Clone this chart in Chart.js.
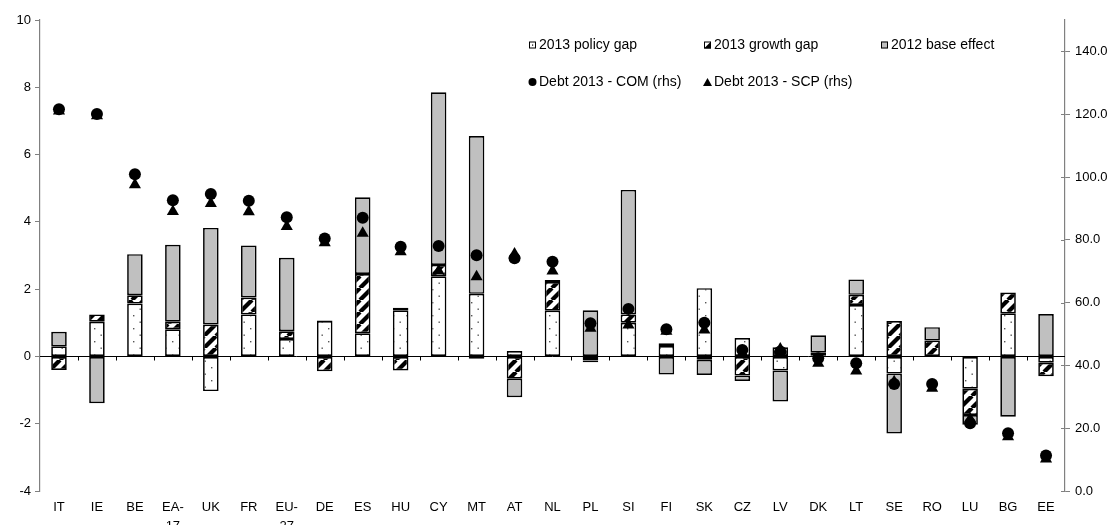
<!DOCTYPE html>
<html>
<head>
<meta charset="utf-8">
<script src="https://cdn.jsdelivr.net/npm/chart.js@4/dist/chart.umd.min.js"></script>
<style>
  html, body { margin: 0; padding: 0; background: #fff; }
  #wrap { width: 1113px; height: 525px; position: relative; }
</style>
</head>
<body>
<div id="wrap"><canvas id="c" width="1113" height="525"></canvas></div>
<script>
// ---- data ----
const categories = ['IT','IE','BE',['EA-','17'],'UK','FR',['EU-','27'],'DE','ES','HU','CY','MT','AT','NL','PL','SI','FI','SK','CZ','LV','DK','LT','SE','RO','LU','BG','EE'];
const policyGap  = [0.30, 1.03, 1.57, 0.81, -1.03, 1.25, 0.52, 1.05, 0.69, 1.37, 2.38, 1.86, 0.16, 1.36, -0.12, 1.00, 0.31, 2.03, 0.55, -0.42, 0.02, 1.53, -0.51, 0.00, -0.96, 1.28, -0.19];
const growthGap  = [-0.40, 0.22, 0.25, 0.22, 0.95, 0.50, 0.23, -0.44, 1.76, -0.42, 0.34, -0.07, -0.66, 0.85, -0.05, 0.25, 0.08, -0.10, -0.57, 0.27, 0.09, 0.30, 1.05, 0.47, -0.78, 0.62, -0.40];
const baseEffect = [0.43, -1.39, 1.22, 2.29, 2.87, 1.55, 2.18, 0.02, 2.28, 0.08, 5.13, 4.69, -0.55, 0.06, 1.37, 3.70, -0.54, -0.45, -0.16, -0.92, 0.52, 0.46, -1.78, 0.40, -0.29, -1.79, 1.26];
const debtCOM    = [121.6, 120.1, 100.9, 92.6, 94.6, 92.4, 87.2, 80.4, 87.0, 77.8, 78.0, 75.1, 74.1, 73.0, 53.4, 58.0, 51.5, 53.6, 44.9, 44.4, 42.3, 40.7, 34.1, 34.1, 21.6, 18.4, 11.3];
const debtSCP    = [121.0, 119.5, 97.5, 89.0, 91.6, 88.9, 84.2, 79.1, 82.1, 76.2, 70.1, 68.2, 75.5, 70.1, 51.8, 52.9, 50.9, 51.3, 43.9, 45.2, 40.7, 38.2, 34.8, 32.7, 22.9, 17.3, 10.2];
const seriesNames = ['2013 policy gap', '2013 growth gap', '2012 base effect', 'Debt 2013 - COM (rhs)', 'Debt 2013 - SCP (rhs)'];
const leftTicks = { min: -4, max: 10, step: 2 };
const rightTicks = { min: 0, max: 150, step: 20 };

const FONT = '"Liberation Sans", Arial, sans-serif';

// ---- patterns ----
function makeTile(size, draw) {
  const t = document.createElement('canvas');
  t.width = size; t.height = size;
  draw(t.getContext('2d'), size);
  return document.getElementById('c').getContext('2d').createPattern(t, 'repeat');
}
const dotPattern = makeTile(13, (g, s) => {
  g.fillStyle = '#fff'; g.fillRect(0, 0, s, s);
  g.fillStyle = '#555';
  g.fillRect(3, 3, 1.4, 1.4);
  g.fillRect(9.5, 9.5, 1.4, 1.4);
});
const hatchPattern = makeTile(12, (g, s) => {
  g.fillStyle = '#fff'; g.fillRect(0, 0, s, s);
  g.strokeStyle = '#000'; g.lineWidth = 4.2;
  for (const k of [-s, 0, s]) {
    g.beginPath(); g.moveTo(k, s); g.lineTo(k + s, 0); g.stroke();
  }
});
const GRAY = '#c0c0c0';

// ---- plugin: zero line, cross ticks, legend ----
const extras = {
  id: 'extras',
  afterDatasetsDraw(chart) {
    const { ctx, chartArea: a, scales } = chart;
    const y0 = Math.round(scales.y.getPixelForValue(0)) + 0.5;
    ctx.save();
    ctx.strokeStyle = '#000'; ctx.lineWidth = 1;
    ctx.beginPath(); ctx.moveTo(a.left, y0); ctx.lineTo(a.right, y0); ctx.stroke();
    const n = categories.length, w = (a.right - a.left) / n;
    ctx.beginPath();
    for (let i = 1; i < n; i++) {
      const x = Math.round(a.left + i * w) + 0.5;
      ctx.moveTo(x, y0); ctx.lineTo(x, y0 + 4);
    }
    ctx.stroke();
    // inner half of right-axis cross ticks
    ctx.strokeStyle = '#808080';
    ctx.beginPath();
    for (let v = rightTicks.min; v <= 140; v += rightTicks.step) {
      const y = Math.round(scales.y2.getPixelForValue(v)) + 0.5;
      ctx.moveTo(a.right - 4, y); ctx.lineTo(a.right, y);
    }
    ctx.stroke();
    ctx.restore();
  },
  afterDraw(chart) {
    const ctx = chart.ctx;
    ctx.save();
    ctx.font = '14px ' + FONT;
    ctx.fillStyle = '#000';
    ctx.textBaseline = 'middle';
    const items = [
      { x: 529, y: 45, kind: 'dot', label: seriesNames[0] },
      { x: 704, y: 45, kind: 'hatch', label: seriesNames[1] },
      { x: 881, y: 45, kind: 'gray', label: seriesNames[2] },
      { x: 529, y: 82, kind: 'circle', label: seriesNames[3] },
      { x: 704, y: 82, kind: 'tri', label: seriesNames[4] },
    ];
    for (const it of items) {
      const s = 7, x = it.x, y = it.y - 3.5;
      ctx.lineWidth = 1; ctx.strokeStyle = '#000';
      if (it.kind === 'dot') {
        ctx.fillStyle = '#fff'; ctx.fillRect(x, y, s, s);
        ctx.fillStyle = '#000'; ctx.fillRect(x + 3, y + 3, 1.2, 1.2);
        ctx.strokeRect(x + 0.5, y + 0.5, s - 1, s - 1);
      } else if (it.kind === 'hatch') {
        ctx.fillStyle = '#fff'; ctx.fillRect(x, y, s, s);
        ctx.fillStyle = '#000';
        ctx.beginPath(); ctx.moveTo(x + s, y); ctx.lineTo(x + s, y + s); ctx.lineTo(x, y + s); ctx.closePath(); ctx.fill();
        ctx.strokeRect(x + 0.5, y + 0.5, s - 1, s - 1);
      } else if (it.kind === 'gray') {
        ctx.fillStyle = GRAY; ctx.fillRect(x, y, s, s);
        ctx.strokeRect(x + 0.5, y + 0.5, s - 1, s - 1);
      } else if (it.kind === 'circle') {
        ctx.fillStyle = '#000';
        ctx.beginPath(); ctx.arc(x + 3.5, it.y, 4, 0, Math.PI * 2); ctx.fill();
      } else {
        ctx.fillStyle = '#000';
        ctx.beginPath(); ctx.moveTo(x + 3.5, it.y - 4); ctx.lineTo(x + 8, it.y + 4); ctx.lineTo(x - 1, it.y + 4); ctx.closePath(); ctx.fill();
      }
      ctx.fillStyle = '#000';
      ctx.fillText(it.label, x + 10, it.y);
    }
    ctx.restore();
  }
};

const barCommon = { type: 'bar', yAxisID: 'y', stack: 's', borderColor: '#000', borderWidth: 1.7, borderSkipped: false, barPercentage: 0.41, categoryPercentage: 1, order: 2 };
const ptCommon = { type: 'line', yAxisID: 'y2', showLine: false, order: 1, pointBackgroundColor: '#000', pointBorderColor: '#000', pointBorderWidth: 0 };

new Chart(document.getElementById('c'), {
  data: {
    labels: categories,
    datasets: [
      Object.assign({ label: seriesNames[0], data: policyGap, backgroundColor: dotPattern }, barCommon),
      Object.assign({ label: seriesNames[1], data: growthGap, backgroundColor: hatchPattern }, barCommon),
      Object.assign({ label: seriesNames[2], data: baseEffect, backgroundColor: GRAY }, barCommon),
      Object.assign({ label: seriesNames[4], data: debtSCP, pointStyle: 'triangle', pointRadius: 7 }, ptCommon),
      Object.assign({ label: seriesNames[3], data: debtCOM, pointStyle: 'circle', pointRadius: 6 }, ptCommon),
    ]
  },
  options: {
    responsive: false,
    animation: false,
    layout: { padding: { top: 20, left: 0, right: 0, bottom: 0 } },
    plugins: { legend: { display: false }, tooltip: { enabled: false } },
    scales: {
      x: {
        stacked: true,
        grid: { display: false, drawTicks: false },
        border: { display: false },
        ticks: { autoSkip: false, maxRotation: 0, minRotation: 0, padding: 7, color: '#000', font: { family: FONT, size: 13, lineHeight: 1.45 } },
        afterFit: s => { s.height = 34; }
      },
      y: {
        stacked: true, position: 'left', min: leftTicks.min, max: leftTicks.max,
        ticks: { stepSize: leftTicks.step, color: '#000', padding: 4, font: { family: FONT, size: 13 } },
        grid: { drawOnChartArea: false, drawTicks: true, tickLength: 5, color: '#808080' },
        border: { color: '#808080', width: 1.2 },
        afterFit: s => { s.width = 40; }
      },
      y2: {
        position: 'right', min: rightTicks.min, max: rightTicks.max,
        ticks: { stepSize: rightTicks.step, color: '#000', padding: 5, font: { family: FONT, size: 13 },
          callback: v => (v % 20 === 0 ? v.toFixed(1) : '') },
        grid: { drawOnChartArea: false, drawTicks: true, tickLength: 5,
          color: c => (c.tick && c.tick.value % 20 !== 0 ? 'rgba(0,0,0,0)' : '#808080') },
        border: { color: '#808080', width: 1.2 },
        afterFit: s => { s.width = 48; }
      }
    }
  },
  plugins: [extras]
});
</script>
</body>
</html>
